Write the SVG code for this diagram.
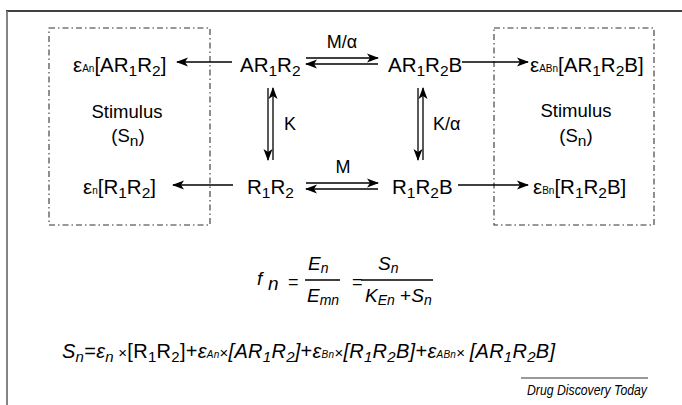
<svg xmlns="http://www.w3.org/2000/svg" width="682" height="405" viewBox="0 0 682 405">
<defs>
<marker id="ah" viewBox="0 0 12 10" refX="11" refY="5" markerWidth="12" markerHeight="10" markerUnits="userSpaceOnUse" orient="auto">
<path d="M0,0.5 L12,5 L0,9.5 L3,5 Z" fill="#000"/>
</marker>
<style>
text{font-family:"Liberation Sans",Arial,Helvetica,sans-serif;fill:#000}
.t{font-size:20.5px}
.s{font-size:15.5px}
.tiny{font-size:10px}
.lab{font-size:18px}
.stim{font-size:18.5px}
.it{font-style:italic}
.f{font-size:19px;font-style:italic}
.fs{font-size:14px;font-style:italic}
.eq{font-size:20px}
.sb{font-size:15px}
.tn{font-size:10px}
.conn line{stroke:#000;stroke-width:1.3;fill:none}
.box{fill:none;stroke:#333;stroke-width:1.1;stroke-dasharray:6 3 1.5 3}
</style>
</defs>
<rect width="682" height="405" fill="#fff"/>
<!-- frame -->
<line x1="6" y1="11" x2="682" y2="11" stroke="#000" stroke-width="1.5"/>
<line x1="7" y1="11" x2="7" y2="405" stroke="#777" stroke-width="1.8"/>

<g id="box-left"><rect class="box" x="49" y="28" width="161" height="197"/>
<text class="stim" x="127" y="118" text-anchor="middle">Stimulus</text>
<text class="stim" x="128" y="142" text-anchor="middle">(S<tspan class="s" dy="4">n</tspan><tspan dy="-4">)</tspan></text>
</g>
<g id="box-right"><rect class="box" x="494" y="28" width="160" height="197"/>
<text class="stim" x="576" y="117" text-anchor="middle">Stimulus</text>
<text class="stim" x="576" y="142" text-anchor="middle">(S<tspan class="s" dy="4">n</tspan><tspan dy="-4">)</tspan></text>
</g>

<g id="eAn"><text class="t" x="73" y="72">ε<tspan class="tiny">An</tspan>[AR<tspan class="s" dy="4">1</tspan><tspan dy="-4">R</tspan><tspan class="s" dy="4">2</tspan><tspan dy="-4">]</tspan></text></g>
<g id="AR1R2"><text class="t" x="240" y="72">AR<tspan class="s" dy="4">1</tspan><tspan dy="-4">R</tspan><tspan class="s" dy="4">2</tspan></text></g>
<g id="AR1R2B"><text class="t" x="388" y="72">AR<tspan class="s" dy="4">1</tspan><tspan dy="-4">R</tspan><tspan class="s" dy="4">2</tspan><tspan dy="-4">B</tspan></text></g>
<g id="eABn"><text class="t" x="530" y="72">ε<tspan class="tiny">ABn</tspan>[AR<tspan class="s" dy="4">1</tspan><tspan dy="-4">R</tspan><tspan class="s" dy="4">2</tspan><tspan dy="-4">B]</tspan></text></g>

<g id="en"><text class="t" x="83" y="194">ε<tspan class="tiny">n</tspan>[R<tspan class="s" dy="4">1</tspan><tspan dy="-4">R</tspan><tspan class="s" dy="4">2</tspan><tspan dy="-4">]</tspan></text></g>
<g id="R1R2"><text class="t" x="247" y="194">R<tspan class="s" dy="4">1</tspan><tspan dy="-4">R</tspan><tspan class="s" dy="4">2</tspan></text></g>
<g id="R1R2B"><text class="t" x="392" y="194">R<tspan class="s" dy="4">1</tspan><tspan dy="-4">R</tspan><tspan class="s" dy="4">2</tspan><tspan dy="-4">B</tspan></text></g>
<g id="eBn"><text class="t" x="533" y="194">ε<tspan class="tiny">Bn</tspan>[R<tspan class="s" dy="4">1</tspan><tspan dy="-4">R</tspan><tspan class="s" dy="4">2</tspan><tspan dy="-4">B]</tspan></text></g>

<g id="connectors" class="conn">
<line x1="232" y1="62" x2="177" y2="62" marker-end="url(#ah)"/>
<line x1="233" y1="185" x2="173" y2="185" marker-end="url(#ah)"/>
<line x1="462" y1="62" x2="528" y2="62" marker-end="url(#ah)"/>
<line x1="458" y1="185" x2="528" y2="185" marker-end="url(#ah)"/>
<line x1="306" y1="58" x2="378" y2="58" marker-end="url(#ah)"/>
<line x1="378" y1="64" x2="306" y2="64" marker-end="url(#ah)"/>
<line x1="306" y1="183" x2="378" y2="183" marker-end="url(#ah)"/>
<line x1="378" y1="189" x2="306" y2="189" marker-end="url(#ah)"/>
<line x1="268" y1="88" x2="268" y2="160" marker-end="url(#ah)"/>
<line x1="273" y1="160" x2="273" y2="88" marker-end="url(#ah)"/>
<line x1="418" y1="88" x2="418" y2="160" marker-end="url(#ah)"/>
<line x1="423" y1="160" x2="423" y2="88" marker-end="url(#ah)"/>
</g>
<g id="labels">
<text class="lab" x="342" y="48" text-anchor="middle">M/α</text>
<text class="lab" x="284" y="130">K</text>
<text class="lab" x="433" y="130">K/α</text>
<text class="lab" x="343" y="173" text-anchor="middle">M</text>
</g>

<g id="formula1">
<text class="f" x="257" y="285">f</text>
<text class="f" x="268" y="290">n</text>
<text class="lab" x="288" y="288">=</text>
<line x1="305" y1="280" x2="340" y2="280" stroke="#000" stroke-width="1.3"/>
<text class="f" x="308" y="270">E<tspan class="fs" dy="3">n</tspan></text>
<text class="f" x="307" y="302">E<tspan class="fs" dy="3">mn</tspan></text>
<text class="lab" x="352" y="288">=</text>
<line x1="361" y1="280" x2="433" y2="280" stroke="#000" stroke-width="1.3"/>
<text class="f" x="378" y="270">S<tspan class="fs" dy="3">n</tspan></text>
<text class="f" x="365" y="302">K<tspan class="fs" dy="3">En</tspan><tspan dy="-3" style="font-style:normal"> +</tspan>S<tspan class="fs" dy="3">n</tspan></text>
</g>

<g id="formula2">
<text class="eq" x="62" y="358" textLength="493" lengthAdjust="spacing"><tspan class="it">S</tspan><tspan class="it sb" dy="4">n</tspan><tspan dy="-4">=</tspan><tspan class="it">ε</tspan><tspan class="it sb" dy="4">n</tspan><tspan dy="-4" class="sb"> ×</tspan>[R<tspan class="sb" dy="4">1</tspan><tspan dy="-4">R</tspan><tspan class="sb" dy="4">2</tspan><tspan dy="-4">]+</tspan><tspan class="it">ε</tspan><tspan class="it tn">An</tspan><tspan class="sb">×</tspan><tspan class="it">[AR</tspan><tspan class="it sb" dy="4">1</tspan><tspan class="it" dy="-4">R</tspan><tspan class="it sb" dy="4">2</tspan><tspan class="it" dy="-4">]</tspan>+<tspan class="it">ε</tspan><tspan class="it tn">Bn</tspan><tspan class="sb">×</tspan><tspan class="it">[R</tspan><tspan class="it sb" dy="4">1</tspan><tspan class="it" dy="-4">R</tspan><tspan class="it sb" dy="4">2</tspan><tspan class="it" dy="-4">B]</tspan>+<tspan class="it">ε</tspan><tspan class="it tn">ABn</tspan><tspan class="sb">× </tspan><tspan class="it">[AR</tspan><tspan class="it sb" dy="4">1</tspan><tspan class="it" dy="-4">R</tspan><tspan class="it sb" dy="4">2</tspan><tspan class="it" dy="-4">B]</tspan></text>
</g>

<g id="credit">
<line x1="521" y1="378" x2="648" y2="378" stroke="#777" stroke-width="1.5"/>
<text x="527" y="395" textLength="120" lengthAdjust="spacingAndGlyphs" style="font-size:14.5px;font-style:italic">Drug Discovery Today</text>
</g>
</svg>
